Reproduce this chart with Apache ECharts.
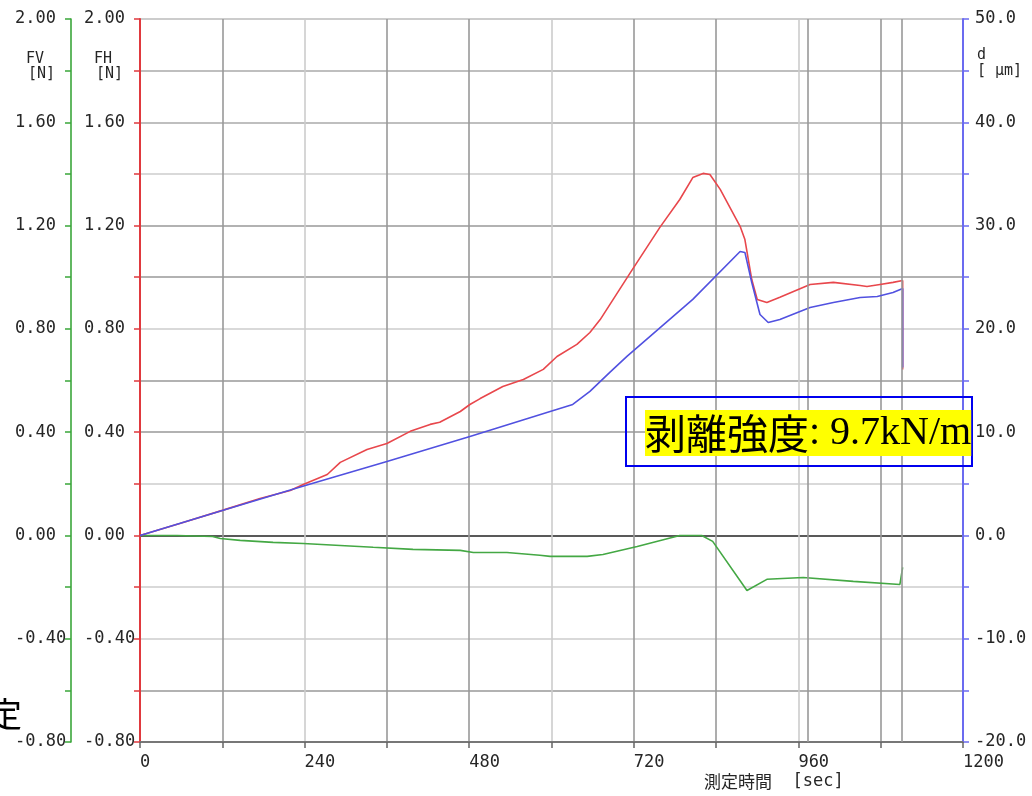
<!DOCTYPE html>
<html><head><meta charset="utf-8">
<script src="https://cdn.jsdelivr.net/npm/echarts@6/dist/echarts.min.js"></script>
<style>html,body{margin:0;padding:0;background:#fff}#c{width:1032px;height:796px}</style>
</head><body><div id="c"></div>
<script>
// Horizontal force FH [N] (red)
const fhTime   = [0, 58, 120, 175, 219, 238, 273, 292, 331, 360, 394, 423, 437, 467, 481, 496, 529, 559, 588, 608, 637, 656, 671, 715, 758, 787, 806, 821, 831, 846, 875, 882, 892, 900, 914, 933, 977, 1011, 1050, 1060, 1079, 1098, 1112, 1112];
const fhValues = [0, 0.046, 0.097, 0.143, 0.174, 0.197, 0.236, 0.283, 0.333, 0.356, 0.403, 0.430, 0.438, 0.480, 0.507, 0.530, 0.577, 0.604, 0.643, 0.693, 0.740, 0.786, 0.836, 1.018, 1.193, 1.301, 1.386, 1.402, 1.398, 1.340, 1.197, 1.146, 0.991, 0.914, 0.902, 0.922, 0.972, 0.980, 0.968, 0.964, 0.972, 0.980, 0.987, 0.643];
// Displacement d [um] (blue)
const dTime   = [0, 120, 241, 360, 481, 598, 631, 656, 685, 710, 806, 875, 882, 892, 904, 916, 933, 977, 1011, 1050, 1075, 1098, 1112, 1112];
const dValues = [0, 2.42, 4.84, 7.16, 9.58, 12.0, 12.68, 13.94, 15.78, 17.33, 22.85, 27.49, 27.40, 24.49, 21.39, 20.62, 20.91, 22.07, 22.56, 23.04, 23.14, 23.52, 23.91, 16.26];
// Vertical force FV [N] (green)
const fvTime   = [0, 54, 106, 117, 146, 194, 238, 292, 340, 398, 467, 486, 535, 583, 598, 652, 675, 725, 787, 819, 835, 885, 914, 967, 1040, 1108, 1112];
const fvValues = [0, 0, -0.004, -0.012, -0.019, -0.027, -0.031, -0.039, -0.046, -0.054, -0.058, -0.066, -0.066, -0.077, -0.081, -0.081, -0.074, -0.043, 0, 0, -0.023, -0.213, -0.170, -0.163, -0.178, -0.190, -0.124];

const fTickLabels = ['-0.80', '-0.40', '0.00', '0.40', '0.80', '1.20', '1.60', '2.00'];
const dTickLabels = ['-20.0', '-10.0', '0.0', '10.0', '20.0', '30.0', '40.0', '50.0'];
const timeTickLabels = ['0', '240', '480', '720', '960', '1200'];
const markerTimes = [973, 1110];
const annotationCJK = '剥離強度';
const annotationValue = ': 9.7kN/m';

const pair = (xs, ys) => xs.map((x, i) => [x, ys[i]]);
const mono = 'DejaVu Sans Mono';
const labelColor = '#262626';

const fFmt = v => { const s = (Math.abs(v) < 1e-9 ? 0 : v).toFixed(2); return fTickLabels.includes(s) ? s : ''; };
const dFmt = v => { const s = (Math.abs(v) < 1e-9 ? 0 : v).toFixed(1); return dTickLabels.includes(s) ? s : ''; };
const tFmt = v => { const s = String(Math.round(v)); return timeTickLabels.includes(s) ? s : ''; };

const hGridColors = ['#777', '#999', '#ccc', '#ccc', '#222', '#ccc', '#999', '#999', '#ccc', '#999', '#999', '#ccc', '#aaa', '#aaa', '#bbb'];
const vGridColors = ['rgba(0,0,0,0)', '#999', '#ccc', '#999', '#999', '#ccc', '#999', '#999', '#ccc', '#999', 'rgba(0,0,0,0)'];

const chart = echarts.init(document.getElementById('c'));
chart.setOption({
  animation: false,
  backgroundColor: '#fff',
  grid: { left: 140, right: 69, top: 19, bottom: 54 },
  xAxis: {
    type: 'value', min: 0, max: 1200, interval: 120,
    axisLine: { show: true, onZero: false, lineStyle: { color: '#777', width: 2 } },
    axisTick: { show: true, length: 6, lineStyle: { color: '#666', width: 1.5 } },
    axisLabel: { formatter: tFmt, align: 'left', margin: 12, fontFamily: mono, fontSize: 17, color: labelColor },
    splitLine: { show: true, lineStyle: { color: vGridColors, width: 1.6 } }
  },
  yAxis: [
    {
      type: 'value', position: 'left', offset: 0, min: -0.8, max: 2.0, interval: 0.2,
      axisLine: { show: true, onZero: false, lineStyle: { color: '#e0393e', width: 2 } },
      axisTick: { show: true, length: 6, lineStyle: { color: '#e0393e', width: 1.5 } },
      axisLabel: { formatter: fFmt, align: 'left', margin: 56, fontFamily: mono, fontSize: 17, color: labelColor },
      splitLine: { show: true, lineStyle: { color: hGridColors, width: 1.6 } }
    },
    {
      type: 'value', position: 'left', offset: 69, min: -0.8, max: 2.0, interval: 0.2,
      axisLine: { show: true, onZero: false, lineStyle: { color: '#3aa63a', width: 1.6 } },
      axisTick: { show: true, length: 6, lineStyle: { color: '#3aa63a', width: 1.5 } },
      axisLabel: { formatter: fFmt, align: 'left', margin: 56, fontFamily: mono, fontSize: 17, color: labelColor },
      splitLine: { show: false }
    },
    {
      type: 'value', position: 'right', min: -20, max: 50, interval: 5,
      axisLine: { show: true, onZero: false, lineStyle: { color: '#6b6bf0', width: 2 } },
      axisTick: { show: true, length: 6, lineStyle: { color: '#6b6bf0', width: 1.5 } },
      axisLabel: { formatter: dFmt, align: 'left', margin: 12, fontFamily: mono, fontSize: 17, color: labelColor },
      splitLine: { show: false }
    }
  ],
  series: [
    {
      type: 'line', yAxisIndex: 1, data: pair(fvTime, fvValues), showSymbol: false,
      lineStyle: { color: '#44a844', width: 1.6 },
      markLine: {
        silent: true, symbol: 'none', label: { show: false },
        lineStyle: { color: '#999', type: 'solid', width: 1.6 },
        data: markerTimes.map(t => ({ xAxis: t }))
      }
    },
    { type: 'line', yAxisIndex: 0, data: pair(fhTime, fhValues), showSymbol: false, lineStyle: { color: '#e8474c', width: 1.6 } },
    { type: 'line', yAxisIndex: 2, data: pair(dTime, dValues), showSymbol: false, lineStyle: { color: '#5151e0', width: 1.6 } }
  ],
  graphic: [
    { type: 'text', left: 26, top: 52, style: { text: 'FV', font: '15px ' + mono, fill: labelColor } },
    { type: 'text', left: 28, top: 67, style: { text: '[N]', font: '15px ' + mono, fill: labelColor } },
    { type: 'text', left: 94, top: 52, style: { text: 'FH', font: '15px ' + mono, fill: labelColor } },
    { type: 'text', left: 96, top: 67, style: { text: '[N]', font: '15px ' + mono, fill: labelColor } },
    { type: 'text', left: 977, top: 48, style: { text: 'd', font: '15px ' + mono, fill: labelColor } },
    { type: 'text', left: 977, top: 64, style: { text: '[ μm]', font: '15px ' + mono, fill: labelColor } },
    {
      type: 'text', left: 704, top: 773,
      style: {
        text: '{a|測定時間}{b|  [sec]}',
        rich: {
          a: { fontFamily: 'Noto Sans CJK JP', fontSize: 17, fill: labelColor, color: labelColor },
          b: { fontFamily: mono, fontSize: 17, fill: labelColor, color: labelColor }
        }
      }
    },
    { type: 'text', x: -12, y: 714, style: { text: '定', font: '34px "Noto Sans CJK JP"', fill: '#000', verticalAlign: 'middle', align: 'left' } },
    { type: 'rect', shape: { x: 626, y: 397, width: 346, height: 69 }, style: { fill: 'none', stroke: '#0000ee', lineWidth: 2 }, z: 10 },
    {
      type: 'text', x: 645, y: 433, z: 11,
      style: {
        text: '{a|' + annotationCJK + '}{b|' + annotationValue + '}',
        verticalAlign: 'middle', align: 'left',
        backgroundColor: '#ffff00', padding: [0, 0, 0, 0],
        rich: {
          a: { fontFamily: 'Noto Sans CJK JP', fontSize: 41, lineHeight: 46, fill: '#000', color: '#000' },
          b: { fontFamily: 'Liberation Serif', fontSize: 40, lineHeight: 46, fill: '#000', color: '#000' }
        }
      }
    }
  ]
});
</script></body></html>
